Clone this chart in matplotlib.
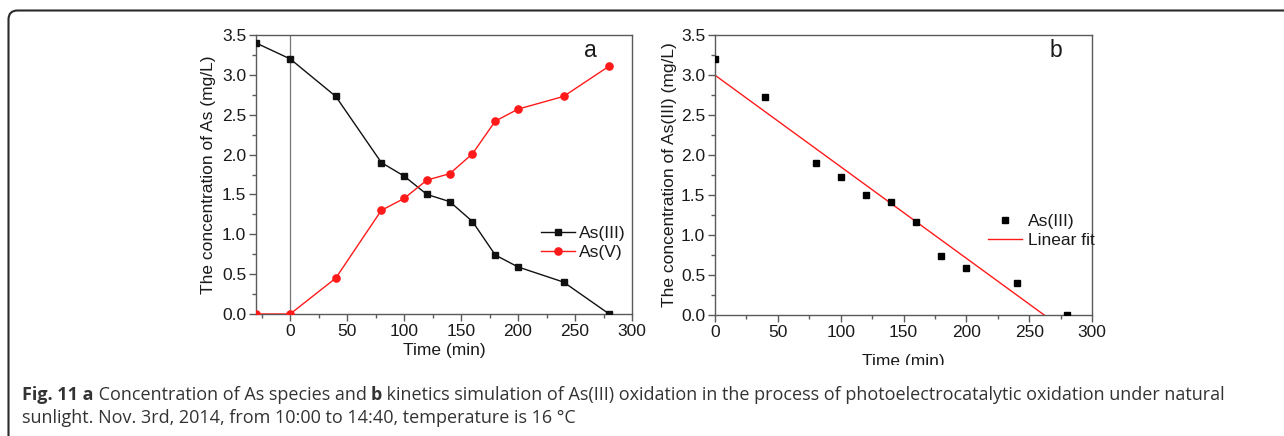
import numpy as np
import matplotlib
matplotlib.use("Agg")
import matplotlib.pyplot as plt
from matplotlib.path import Path
from matplotlib.patches import PathPatch, Rectangle
from matplotlib.transforms import IdentityTransform
from matplotlib.ticker import MultipleLocator

# ---------------- data ----------------
time_a = [-30, 0, 40, 80, 100, 120, 140, 160, 180, 200, 240, 280]
as3_a = [3.40, 3.20, 2.73, 1.90, 1.73, 1.50, 1.41, 1.16, 0.74, 0.59, 0.40, 0.00]
as5_a = [0.00, 0.00, 0.45, 1.30, 1.45, 1.68, 1.76, 2.01, 2.42, 2.57, 2.73, 3.11]

time_b = [0, 40, 80, 100, 120, 140, 160, 180, 200, 240, 280]
as3_b = [3.20, 2.73, 1.90, 1.72, 1.50, 1.41, 1.16, 0.74, 0.59, 0.40, 0.00]

xticks = [0, 50, 100, 150, 200, 250, 300]
yticks = [0.0, 0.5, 1.0, 1.5, 2.0, 2.5, 3.0, 3.5]

caption_parts_1 = [("Fig. 11 a", "bold"), (" Concentration of As species and ", "normal"),
                   ("b", "bold"),
                   (" kinetics simulation of As(III) oxidation in the process of photoelectrocatalytic oxidation under natural", "normal")]
caption_line_2 = "sunlight. Nov. 3rd, 2014, from 10:00 to 14:40, temperature is 16 °C"

# ---------------- figure ----------------
W, H = 1284, 436
fig = plt.figure(figsize=(W / 100, H / 100), dpi=100)
fig.patch.set_facecolor("white")
plt.rcParams["font.family"] = ["Liberation Sans", "DejaVu Sans"]

TXT = "#1a1a1a"
SPINE = "#5a5a5a"
FS = 12.5


def px_axes(l, t, r, b):
    return fig.add_axes([l / W, 1 - b / H, (r - l) / W, (b - t) / H])


def style(ax, xlim, xlabelpad):
    ax.set_xlim(*xlim)
    ax.set_ylim(0, 3.5)
    ax.set_xticks(xticks)
    ax.set_yticks(yticks)
    ax.set_yticklabels([f"{v:.1f}" for v in yticks])
    ax.xaxis.set_minor_locator(MultipleLocator(25))
    ax.yaxis.set_minor_locator(MultipleLocator(0.25))
    ax.tick_params(which="both", direction="out", top=False, right=False,
                   color=SPINE, width=1.0, labelsize=FS, labelcolor=TXT)
    ax.tick_params(which="major", length=5, pad=2)
    ax.tick_params(which="minor", length=3)
    for s in ax.spines.values():
        s.set_color(SPINE)
        s.set_linewidth(1.0)
    ax.set_xlabel("Time (min)", fontsize=FS, color=TXT, labelpad=xlabelpad)


# ---------------- panel a ----------------
axa = px_axes(256, 35, 632, 314)
style(axa, (-30, 300), 3)
axa.axvline(0, color="#777777", lw=0.9, zorder=1)
axa.plot(time_a, as3_a, color="#111111", lw=1.0, marker="s", ms=4.6,
         label="As(III)", zorder=3)
axa.plot(time_a, as5_a, color="#ff1a1a", lw=1.0, marker="o", ms=5.2,
         label="As(V)", zorder=3)
axa.set_ylabel("The concentration of As (mg/L)", fontsize=FS, color=TXT, labelpad=4)
axa.text(0.888, 0.946, "a", transform=axa.transAxes, fontsize=16.5, color=TXT,
         ha="center", va="center")
axa.legend(loc="upper left", bbox_to_anchor=(0.74, 0.34), frameon=False,
           fontsize=FS, handlelength=1.95, handletextpad=0.25, labelspacing=0.2,
           borderaxespad=0, labelcolor=TXT)

# ---------------- panel b ----------------
axb = px_axes(715, 35, 1092, 315)
style(axb, (0, 300), 10)
axb.plot(time_b, as3_b, ls="none", color="#000000", marker="s", ms=4.8,
         label="As(III)", zorder=3)
slope, intercept = np.polyfit(time_b, as3_b, 1)
x_end = -intercept / slope
xf = np.array([0.0, x_end])
axb.plot(xf, intercept + slope * xf, color="#ff1a1a", lw=1.0, label="Linear fit",
         zorder=2)
axb.set_ylabel("The concentration of As(III) (mg/L)", fontsize=FS, color=TXT, labelpad=3)
axb.text(0.905, 0.946, "b", transform=axb.transAxes, fontsize=16.5, color=TXT,
         ha="center", va="center")
axb.legend(loc="upper left", bbox_to_anchor=(0.705, 0.385), frameon=False,
           fontsize=FS, handlelength=2.0, handletextpad=0.3, labelspacing=0.2,
           borderaxespad=0, labelcolor=TXT)

# white strip clipping the bottom of panel b's x label
fig.add_artist(Rectangle((650, H - 385), W - 650, 20, transform=IdentityTransform(),
                         facecolor="white", edgecolor="none", zorder=5))

# ---------------- frame ----------------
r = 9
x0, y0 = 8.5, H - 10.5
verts = [(x0, -20), (x0, y0 - r), (x0, y0), (x0 + r, y0), (W + 20, y0)]
codes = [Path.MOVETO, Path.LINETO, Path.CURVE3, Path.CURVE3, Path.LINETO]
fig.add_artist(PathPatch(Path(verts, codes), transform=IdentityTransform(),
                         facecolor="none", edgecolor="#2a2a2a", lw=1.5, zorder=6))

# ---------------- caption ----------------
fig.canvas.draw()
renderer = fig.canvas.get_renderer()
CAP = "#333333"
cap_font = ["Open Sans", "DejaVu Sans"]
CFS = 13.0
x = 22
y1 = H - 400
for txt, wt in caption_parts_1:
    t = fig.text(x, y1, txt, transform=IdentityTransform(), fontsize=CFS,
                 fontweight=wt, family=cap_font, color=CAP, va="baseline", ha="left",
                 zorder=7)
    bb = t.get_window_extent(renderer)
    x = bb.x1
fig.text(22, H - 423, caption_line_2, transform=IdentityTransform(), fontsize=CFS,
         family=cap_font, color=CAP, va="baseline", ha="left", zorder=7)

fig.savefig("out.png", dpi=100, facecolor="white")
